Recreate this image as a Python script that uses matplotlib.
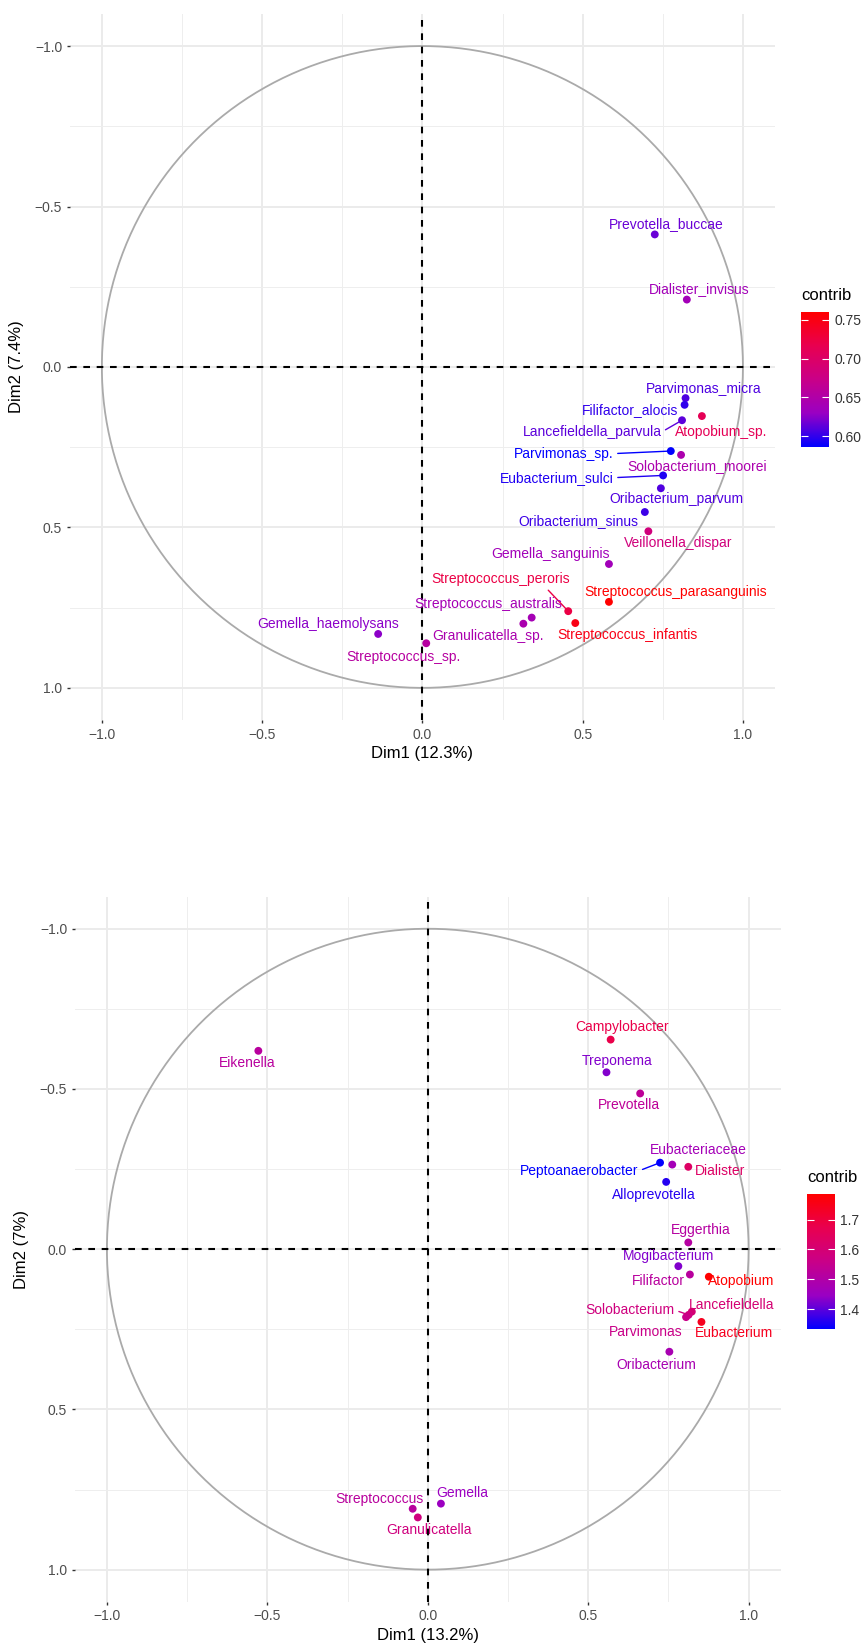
import numpy as np
import matplotlib
matplotlib.use('Agg')
import matplotlib.pyplot as plt
from matplotlib.colors import LinearSegmentedColormap, Normalize
from matplotlib.cm import ScalarMappable

plt.rcParams['font.family'] = ['Liberation Sans', 'DejaVu Sans']

# ---- species level variables (PCA, Dim1 12.3% / Dim2 7.4%) ----
sp_names = ['Prevotella_buccae', 'Dialister_invisus', 'Parvimonas_micra', 'Filifactor_alocis',
            'Lancefieldella_parvula', 'Atopobium_sp.', 'Parvimonas_sp.', 'Solobacterium_moorei',
            'Eubacterium_sulci', 'Oribacterium_parvum', 'Oribacterium_sinus', 'Veillonella_dispar',
            'Gemella_sanguinis', 'Streptococcus_peroris', 'Streptococcus_parasanguinis',
            'Streptococcus_australis', 'Gemella_haemolysans', 'Granulicatella_sp.',
            'Streptococcus_infantis', 'Streptococcus_sp.']
sp_dim1 = [0.725, 0.825, 0.821, 0.818, 0.810, 0.872, 0.775, 0.807, 0.751, 0.744,
           0.694, 0.705, 0.582, 0.455, 0.582, 0.341, -0.138, 0.315, 0.477, 0.012]
sp_dim2 = [-0.413, -0.210, 0.097, 0.118, 0.166, 0.153, 0.262, 0.274, 0.338, 0.378,
           0.452, 0.512, 0.614, 0.761, 0.732, 0.781, 0.832, 0.800, 0.798, 0.861]
sp_contrib = [0.616, 0.638, 0.608, 0.600, 0.612, 0.712, 0.586, 0.646, 0.595, 0.609,
              0.603, 0.683, 0.637, 0.722, 0.760, 0.640, 0.626, 0.645, 0.748, 0.656]

# ---- genus level variables (PCA, Dim1 13.2% / Dim2 7%) ----
gen_names = ['Eikenella', 'Campylobacter', 'Treponema', 'Prevotella', 'Peptoanaerobacter',
             'Eubacteriaceae', 'Dialister', 'Alloprevotella', 'Eggerthia', 'Mogibacterium',
             'Filifactor', 'Atopobium', 'Lancefieldella', 'Solobacterium', 'Parvimonas',
             'Eubacterium', 'Oribacterium', 'Gemella', 'Streptococcus', 'Granulicatella']
gen_dim1 = [-0.528, 0.570, 0.557, 0.662, 0.724, 0.762, 0.812, 0.743, 0.812, 0.781,
            0.817, 0.876, 0.823, 0.813, 0.805, 0.853, 0.753, 0.041, -0.047, -0.031]
gen_dim2 = [-0.619, -0.654, -0.552, -0.486, -0.270, -0.264, -0.257, -0.210, -0.021, 0.053,
            0.079, 0.086, 0.195, 0.205, 0.212, 0.227, 0.320, 0.794, 0.810, 0.837]
gen_contrib = [1.52, 1.68, 1.43, 1.53, 1.333, 1.47, 1.63, 1.36, 1.51, 1.43,
               1.52, 1.785, 1.60, 1.58, 1.56, 1.74, 1.48, 1.45, 1.52, 1.58]

# repelled label placement (data units) and leader-line anchors on the text box
sp_lab_x = [0.760, 0.862, 0.878, 0.648, 0.529, 0.932, 0.441, 0.858, 0.419, 0.792,
            0.486, 0.798, 0.400, 0.243, 0.789, 0.205, -0.293, 0.205, 0.639, -0.060]
sp_lab_y = [-0.447, -0.243, 0.067, 0.135, 0.203, 0.203, 0.270, 0.310, 0.345, 0.413,
            0.480, 0.549, 0.583, 0.662, 0.700, 0.740, 0.800, 0.837, 0.835, 0.905]
sp_leaders = {'Lancefieldella_parvula': (1.0, 0.5), 'Parvimonas_sp.': (1.0, 0.5),
              'Eubacterium_sulci': (1.0, 0.5), 'Streptococcus_peroris': (0.82, 0.0)}

gen_lab_x = [-0.562, 0.607, 0.591, 0.626, 0.472, 0.843, 0.910, 0.705, 0.850, 0.752,
             0.720, 0.976, 0.946, 0.631, 0.679, 0.955, 0.712, 0.109, -0.150, 0.003]
gen_lab_y = [-0.581, -0.692, -0.587, -0.450, -0.244, -0.311, -0.243, -0.168, -0.061, 0.021,
             0.100, 0.100, 0.173, 0.190, 0.258, 0.260, 0.361, 0.761, 0.778, 0.877]
gen_leaders = {'Peptoanaerobacter': (1.0, 0.5), 'Solobacterium': (1.0, 0.5)}

tick_vals = [-1.0, -0.5, 0.0, 0.5, 1.0]

# blue -> red ramp interpolated in Lab space
contrib_cmap = LinearSegmentedColormap.from_list(
    'contrib', ['#0000FF', '#9A00C3', '#C90088', '#E80050', '#FF0000'])

fig = plt.figure(figsize=(8.66, 16.43), dpi=100)


def fmt_tick(v):
    return ('%.1f' % v).replace('-', '\u2212')


def corr_circle(ax, cax, names, d1, d2, contrib, lab_x, lab_y, leaders,
                xlab, ylab, cticks, cfmt):
    norm = Normalize(vmin=min(contrib), vmax=max(contrib))
    cols = contrib_cmap(norm(np.array(contrib)))

    ax.set_xlim(-1.1, 1.1)
    ax.set_ylim(1.1, -1.1)
    for s in ax.spines.values():
        s.set_visible(False)
    ax.set_xticks(tick_vals)
    ax.set_yticks(tick_vals)
    ax.set_xticks([-0.75, -0.25, 0.25, 0.75], minor=True)
    ax.set_yticks([-0.75, -0.25, 0.25, 0.75], minor=True)
    ax.set_xticklabels([fmt_tick(v) for v in tick_vals])
    ax.set_yticklabels([fmt_tick(v) for v in tick_vals])
    ax.grid(True, which='major', color='#EBEBEB', lw=1.4)
    ax.grid(True, which='minor', color='#EEEEEE', lw=0.7)
    ax.set_axisbelow(True)
    ax.tick_params(which='major', length=2.5, width=1.0, color='#333333',
                   labelsize=10, labelcolor='#4D4D4D', pad=3)
    ax.tick_params(which='minor', length=0)

    theta = np.linspace(0, 2 * np.pi, 200)
    ax.plot(np.cos(theta), np.sin(theta), color='#AAAAAA', lw=1.3, zorder=2)
    ax.axhline(0, color='black', lw=1.5, ls=(0, (3.2, 3.2)), zorder=3)
    ax.axvline(0, color='black', lw=1.5, ls=(0, (3.2, 3.2)), zorder=3)

    ax.scatter(d1, d2, s=32, c=cols, zorder=5, linewidths=0)
    for i, name in enumerate(names):
        if name in leaders:
            ax.annotate(name, xy=(d1[i], d2[i]), xytext=(lab_x[i], lab_y[i]),
                        color=cols[i], fontsize=10, ha='center', va='center', zorder=6,
                        arrowprops=dict(arrowstyle='-', color=cols[i], lw=1.0,
                                        shrinkA=1, shrinkB=2, relpos=leaders[name]))
        else:
            ax.text(lab_x[i], lab_y[i], name, color=cols[i], fontsize=10,
                    ha='center', va='center', zorder=6)

    ax.set_xlabel(xlab, fontsize=12, labelpad=3)
    ax.set_ylabel(ylab, fontsize=12, labelpad=8)

    cb = fig.colorbar(ScalarMappable(norm=norm, cmap=contrib_cmap), cax=cax, ticks=cticks)
    cb.outline.set_visible(False)
    cax.yaxis.set_ticks_position('both')
    cax.tick_params(direction='in', color='white', length=5, width=0.8,
                    labelsize=10, labelcolor='#333333', pad=4, labelleft=False)
    cax.set_yticklabels([cfmt % t for t in cticks])


ax1 = fig.add_axes([0.0806, 0.5618, 0.8143, 0.4297])
cax1 = fig.add_axes([0.925, 0.7279, 0.0323, 0.0822])
corr_circle(ax1, cax1, sp_names, sp_dim1, sp_dim2, sp_contrib, sp_lab_x, sp_lab_y,
            sp_leaders, 'Dim1 (12.3%)', 'Dim2 (7.4%)', [0.60, 0.65, 0.70, 0.75], '%.2f')
fig.text(0.925, 1 - 295 / 1643, 'contrib', fontsize=12, ha='left', va='center')

ax2 = fig.add_axes([0.0864, 0.02514, 0.8151, 0.4291])
cax2 = fig.add_axes([0.9319, 0.1909, 0.0318, 0.0823])
corr_circle(ax2, cax2, gen_names, gen_dim1, gen_dim2, gen_contrib, gen_lab_x, gen_lab_y,
            gen_leaders, 'Dim1 (13.2%)', 'Dim2 (7%)', [1.4, 1.5, 1.6, 1.7], '%.1f')
fig.text(0.9319, 1 - 1178 / 1643, 'contrib', fontsize=12, ha='left', va='center')

fig.savefig('out.png', dpi=100)
